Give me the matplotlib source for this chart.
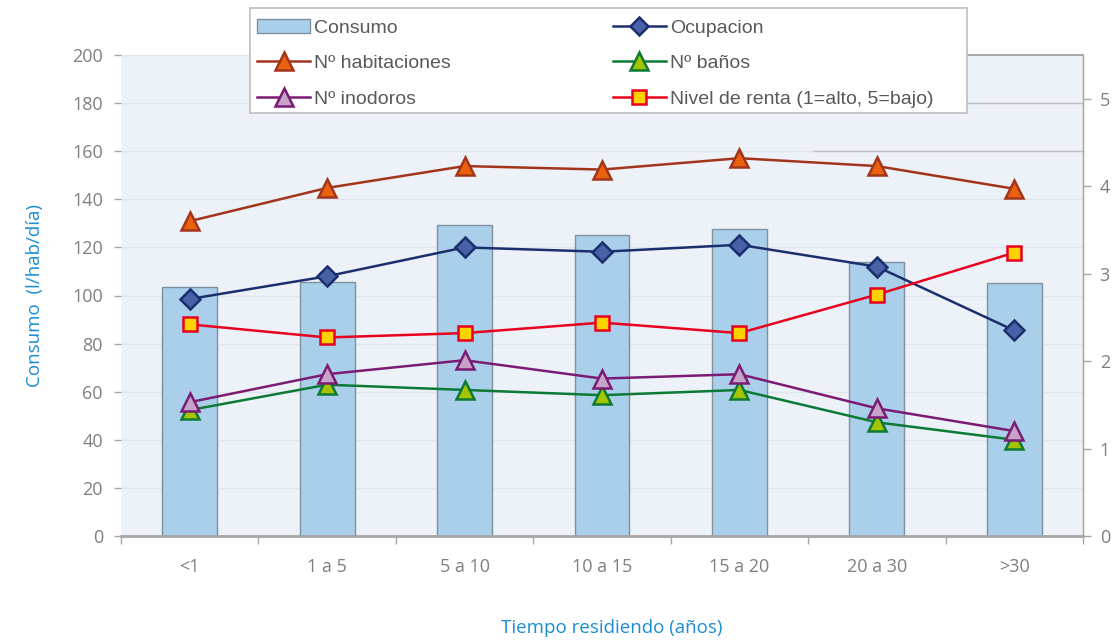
import matplotlib
matplotlib.use("Agg")
import matplotlib.pyplot as plt
from matplotlib.patches import Rectangle
import numpy as np

categories = ["<1", "1 a 5", "5 a 10", "10 a 15", "15 a 20", "20 a 30", ">30"]
consumo = [103.5, 105.7, 129.2, 125.0, 127.6, 114.1, 105.3]
ocupacion = [2.71, 2.97, 3.30, 3.25, 3.33, 3.08, 2.35]
habitaciones = [3.60, 3.98, 4.23, 4.19, 4.32, 4.23, 3.97]
banos = [1.44, 1.73, 1.67, 1.61, 1.67, 1.30, 1.10]
inodoros = [1.53, 1.85, 2.01, 1.80, 1.85, 1.46, 1.20]
renta = [2.42, 2.27, 2.32, 2.44, 2.32, 2.76, 3.24]

left_ticks = list(range(0, 201, 20))
right_ticks = [0, 1, 2, 3, 4, 5]

W, H = 1112, 642
fig = plt.figure(figsize=(W / 100, H / 100), dpi=100)
x0, x1, y0, y1 = 121, 1083, 55, 536
ax = fig.add_axes([x0 / W, 1 - y1 / H, (x1 - x0) / W, (y1 - y0) / H])
ax.set_facecolor("#EDF2F9")
x = np.arange(len(categories))

tick_font = dict(family="Open Sans", size=13, color="#7F7F7F")

ax.bar(x, consumo, width=0.40, color="#A9CFEA", edgecolor="#7F909E", linewidth=1.0,
       label="Consumo", zorder=2)
ax.set_xlim(-0.5, len(categories) - 0.5)
ax.set_ylim(0, 200)
ax.set_yticks(left_ticks)
ax.set_yticklabels([str(t) for t in left_ticks], fontdict=tick_font)
ax.grid(axis="y", color="#E0E5EC", linewidth=1.0, zorder=0)
ax.set_axisbelow(True)
ax.tick_params(axis="y", which="major", direction="out", length=5, width=1,
               color="#A6A6A6", pad=8)
ax.set_xticks(x)
ax.set_xticklabels(categories, fontdict=tick_font)
ax.tick_params(axis="x", which="major", length=0, pad=16)
ax.set_xticks(np.arange(-0.5, len(categories), 1.0), minor=True)
ax.tick_params(axis="x", which="minor", direction="out", length=6, width=1, color="#A6A6A6")

ax.spines["left"].set_visible(False)
ax.spines["top"].set_visible(False)
ax.spines["bottom"].set_color("#A6A6A6")
ax.spines["bottom"].set_linewidth(2)
ax.spines["right"].set_color("#A6A6A6")
ax.spines["right"].set_linewidth(1)

# partial gray lines visible in reference
fx = (967 - x0) / (x1 - x0)
ax.axhline(200, xmin=fx, xmax=1, color="#9A9A9A", linewidth=1.2, zorder=1, clip_on=False)
ax.axhline(180, xmin=fx, xmax=1, color="#BFBFBF", linewidth=1, zorder=1)
ax.axhline(160, xmin=(814 - x0) / (x1 - x0), xmax=1, color="#BFBFBF", linewidth=1, zorder=1)

ax.set_ylabel("Consumo  (l/hab/día)", family="Open Sans", size=13.5, color="#1A8DD2",
              labelpad=20)

ax2 = ax.twinx()
ax2.set_ylim(0, 5.5)
ax2.set_yticks(right_ticks)
ax2.set_yticklabels([str(t) for t in right_ticks], fontdict=tick_font)
ax2.tick_params(axis="y", direction="out", length=6, width=1, color="#A6A6A6", pad=6)
for s in ["left", "top", "bottom"]:
    ax2.spines[s].set_visible(False)
ax2.spines["right"].set_color("#A6A6A6")

lw = 1.8
l1, = ax2.plot(x, ocupacion, color="#1B2F6E", lw=lw, marker="D", ms=10,
               mfc="#4862A8", mec="#1B2F6E", mew=1.8, label="Ocupacion", zorder=4)
l2, = ax2.plot(x, habitaciones, color="#A3341C", lw=lw, marker="^", ms=13,
               mfc="#EA620E", mec="#A3341C", mew=1.8, label="Nº habitaciones", zorder=4)
l3, = ax2.plot(x, banos, color="#0C7A34", lw=lw, marker="^", ms=13,
               mfc="#A4C400", mec="#0C7A34", mew=1.8, label="Nº baños", zorder=4)
l4, = ax2.plot(x, inodoros, color="#7C1B74", lw=lw, marker="^", ms=13,
               mfc="#C6A3C9", mec="#7C1B74", mew=1.8, label="Nº inodoros", zorder=4)
l5, = ax2.plot(x, renta, color="#E8001E", lw=lw, marker="s", ms=10.5,
               mfc="#FFD200", mec="#E8001E", mew=1.8,
               label="Nivel de renta (1=alto, 5=bajo)", zorder=4)

# legend frame
frame = Rectangle((250 / W, 1 - 113 / H), (967 - 250) / W, (113 - 8) / H,
                  transform=fig.transFigure, facecolor="white", edgecolor="#BFBFBF",
                  linewidth=1.2, zorder=4)
fig.add_artist(frame)

bar_handle = ax.patches[0]
handles = [bar_handle, l2, l4, l1, l3, l5]
labels = ["Consumo", "Nº habitaciones", "Nº inodoros", "Ocupacion", "Nº baños",
          "Nivel de renta (1=alto, 5=bajo)"]
leg = fig.legend(handles, labels, ncol=2, loc="upper left",
                 bbox_to_anchor=(257 / W, 1 - 19 / H),
                 frameon=False, borderaxespad=0, borderpad=0,
                 handlelength=2.75, handletextpad=0.2, columnspacing=8.3,
                 labelspacing=0.93, markerscale=0.95,
                 prop=dict(family="Liberation Sans", size=14))
leg.set_zorder(5)
for t in leg.get_texts():
    t.set_color("#595959")

fig.text(612 / W, 1 - 628 / H, "Tiempo residiendo (años)", family="Open Sans", size=13.5,
         color="#1A8DD2", ha="center", va="center")

fig.savefig("out.png", dpi=100, facecolor="white")
